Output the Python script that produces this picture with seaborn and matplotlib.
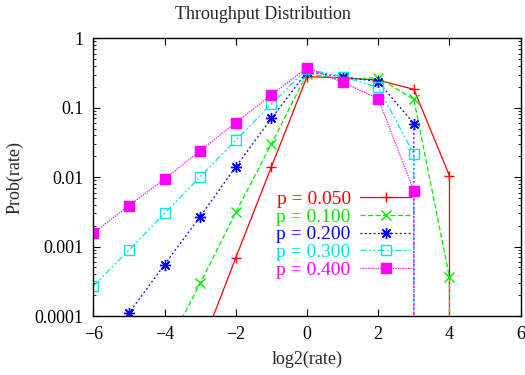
import numpy as np
import pandas as pd
import seaborn as sns
import matplotlib.pyplot as plt
from matplotlib.ticker import FixedLocator, LogLocator, NullFormatter

sns.set_theme(style='ticks')
plt.rcParams['font.family'] = ['Liberation Serif', 'DejaVu Serif']

# log2(rate) bins
rates = [-6, -5, -4, -3, -2, -1, 0, 1, 2, 3, 4]
nan = np.nan

# Prob(rate) for each p (nan = not plotted)
p_050 = [nan, nan, nan, 3.2e-5, 0.00069, 0.0141, 0.28, 0.27, 0.25, 0.184, 0.0105]
p_100 = [nan, nan, 3.0e-5, 0.000295, 0.0031, 0.030, 0.31, 0.256, 0.27, 0.132, 0.00036]
p_200 = [2.0e-5, 0.00011, 0.00055, 0.0027, 0.0141, 0.070, 0.33, 0.28, 0.237, 0.059, nan]
p_300 = [0.00027, 0.00089, 0.0030, 0.0101, 0.034, 0.113, 0.36, 0.28, 0.197, 0.0215, nan]
p_400 = [0.00155, 0.0039, 0.0094, 0.024, 0.061, 0.152, 0.377, 0.232, 0.135, 0.0064, nan]

# rate where each curve drops to zero
drop_at = [4, 4, 3, 3, 3]
labels = ['p = 0.050', 'p = 0.100', 'p = 0.200', 'p = 0.300', 'p = 0.400']
series = [p_050, p_100, p_200, p_300, p_400]

colors = ['#ff0000', '#00ee00', '#0000ff', '#00e5ee', '#ff00ff']
dashes = ['-', (0, (4, 2)), (0, (1.5, 2)), (0, (5, 2, 1.5, 2, 1.5, 2)), (0, (1, 1))]
markers = ['+', 'x', (8, 2, 0), 's', 's']
msizes = [7.5, 7, 8, 6.5, 6.5]
fills = [True, True, True, False, True]

fig = plt.figure(figsize=(5.25, 3.75), dpi=100)
ax = fig.add_axes([0.1777, 0.1573, 0.8141, 0.7406])

handles = []
for lab, vals, d, c, ls, m, ms, f in zip(labels, series, drop_at, colors, dashes,
                                          markers, msizes, fills):
    df = pd.DataFrame({'rate': rates, 'prob': vals}).dropna()
    df = df[df['rate'] <= d]
    # zero probability -> goes straight down off the log axis
    df = pd.concat([df, pd.DataFrame({'rate': [d], 'prob': [1e-9]})], ignore_index=True)
    kw = dict(markerfacecolor=c if f else 'none', markeredgecolor=c,
              markersize=ms, markeredgewidth=1.0)
    sns.lineplot(data=df, x='rate', y='prob', ax=ax, sort=False, estimator=None,
                 color=c, linestyle=ls, linewidth=0.9, marker=m, **kw)
    h, = ax.plot([], [], color=c, linestyle=ls, linewidth=0.9, marker=m, **kw)
    handles.append(h)

ax.set_yscale('log')
ax.set_xlim(-6, 6)
ax.set_ylim(1e-4, 1)
ax.xaxis.set_major_locator(FixedLocator([-6, -4, -2, 0, 2, 4, 6]))
ax.set_yticks([1e-4, 1e-3, 1e-2, 1e-1, 1])
ax.set_yticklabels(['0.0001', '0.001', '0.01', '0.1', '1'])
ax.yaxis.set_minor_locator(LogLocator(base=10, subs=np.arange(2, 10)))
ax.yaxis.set_minor_formatter(NullFormatter())

ax.tick_params(which='both', direction='in', top=True, right=True, labelsize=13,
               colors='black', pad=7)
ax.tick_params(which='major', length=5, width=0.8)
ax.tick_params(which='minor', length=2.5, width=0.6)
for s in ax.spines.values():
    s.set_linewidth(1.0)
    s.set_color('black')

ax.set_xlabel('log2(rate)', fontsize=13, labelpad=6)
ax.set_ylabel('Prob(rate)', fontsize=13, labelpad=8)
fig.suptitle('Throughput Distribution', fontsize=13, y=0.985)

leg = ax.legend(handles, labels, markerfirst=False, labelcolor='linecolor', frameon=False,
                fontsize=14, handlelength=2.6, labelspacing=0.0, handletextpad=0.5,
                loc='upper left', bbox_to_anchor=(0.41, 0.48), borderaxespad=0)

fig.savefig('out.png', dpi=100)
